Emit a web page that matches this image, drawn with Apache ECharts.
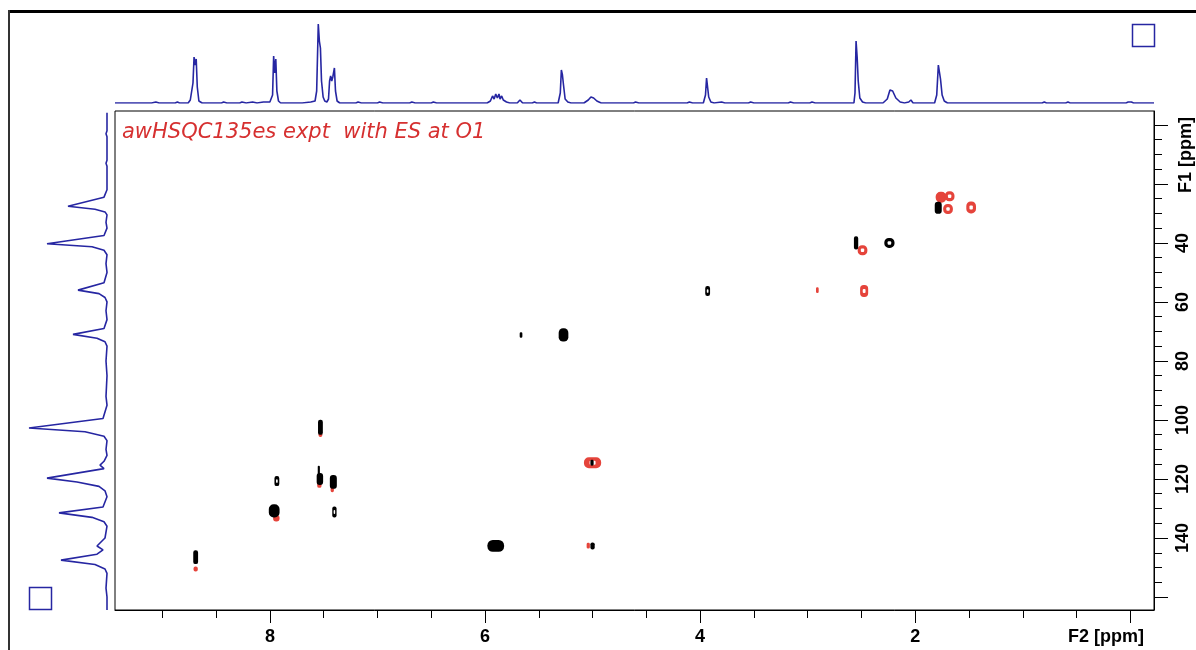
<!DOCTYPE html>
<html><head><meta charset="utf-8">
<script src="https://cdn.jsdelivr.net/npm/echarts@6/dist/echarts.min.js"></script>
<style>html,body{margin:0;padding:0;background:#fff}#c{width:1196px;height:650px}</style>
</head><body><div id="c"></div><script>
// ---- Axis ranges & ticks (ppm) ----
const F2_MIN = -0.22, F2_MAX = 9.44;
const F1_MIN = -4.7, F1_MAX = 164.4;
const f2MajorTicks = [0, 2, 4, 6, 8];
const f2MinorTicks = [0.5, 1, 1.5, 2.5, 3, 3.5, 4.5, 5, 5.5, 6.5, 7, 7.5, 8.5, 9];
const f2Labels = [2, 4, 6, 8];
const f1MajorTicks = [0, 20, 40, 60, 80, 100, 120, 140, 160];
const f1MinorTicks = [5, 10, 15, 25, 30, 35, 45, 50, 55, 65, 70, 75, 85, 90, 95, 105, 110, 115, 125, 130, 135, 145, 150, 155];
const f1Labels = [40, 60, 80, 100, 120, 140];

// ---- 2D cross peaks: [F2 ppm, F1 ppm, F2 extent ppm, F1 extent ppm] ----
const positivePeaks = [
  [1.786, 28.1, 0.065, 4.1],
  [2.55, 40.0, 0.04, 4.5],
  [2.24, 40.0, 0.095, 3.4],
  [3.93, 56.3, 0.045, 3.4],
  [5.665, 71.2, 0.025, 1.8],
  [5.27, 71.2, 0.09, 4.5],
  [5.005, 114.5, 0.03, 2.0],
  [7.53, 102.5, 0.045, 5.1],
  [7.535, 120.0, 0.06, 4.0],
  [7.545, 117.0, 0.02, 3.0],
  [7.41, 121.0, 0.065, 4.7],
  [7.935, 120.7, 0.045, 3.4],
  [7.96, 130.8, 0.10, 4.5],
  [7.40, 131.2, 0.04, 3.7],
  [5.90, 142.7, 0.155, 4.0],
  [8.69, 146.5, 0.045, 4.7],
  [5.00, 142.7, 0.04, 2.4]
];
const negativePeaks = [
  [1.76, 24.5, 0.10, 3.7],
  [1.68, 24.2, 0.09, 3.4],
  [1.695, 28.5, 0.09, 3.4],
  [1.48, 28.0, 0.09, 4.0],
  [2.49, 42.5, 0.09, 3.4],
  [2.91, 56.0, 0.025, 2.0],
  [2.475, 56.3, 0.075, 4.0],
  [5.00, 114.5, 0.16, 3.7],
  [7.53, 105.0, 0.035, 1.5],
  [7.54, 122.0, 0.04, 2.0],
  [7.42, 123.5, 0.03, 2.0],
  [7.94, 133.3, 0.06, 2.2],
  [8.69, 150.5, 0.04, 1.7],
  [5.04, 142.6, 0.03, 2.0]
];

// ---- 1D projections ----
// F2 (top) projection: [ppm, intensity]
const f2Projection = [
  [9.44,0],[9.10,0],[9.06,1],[9.03,0],[8.88,0],[8.86,1],[8.84,0],
  [8.76,0],[8.74,3],[8.715,20],[8.705,46],[8.695,38],[8.685,44],[8.675,16],[8.66,2],[8.63,0],
  [8.45,0],[8.43,1],[8.40,0],[8.28,0],[8.26,1],[8.22,0],[8.16,1],[8.12,0],[8.06,1],
  [8.00,1],[7.975,8],[7.965,47],[7.955,30],[7.945,44],[7.935,12],[7.92,2],[7.90,0],
  [7.70,0],[7.62,1],[7.58,2],[7.565,12],[7.55,79],[7.54,62],[7.53,55],[7.52,22],[7.505,6],[7.49,2],[7.47,1],
  [7.455,4],[7.445,22],[7.435,27],[7.425,22],[7.415,26],[7.40,35],[7.39,12],[7.375,2],[7.35,0],
  [7.20,0],[7.18,1],[7.15,0],[7.00,0],[6.98,1],[6.95,0],[6.70,0],[6.68,1],[6.65,0],[6.50,0],[6.48,1],[6.45,0],
  [5.98,0],[5.95,2],[5.93,7],[5.915,4],[5.90,9],[5.885,5],[5.87,9],[5.86,4],[5.845,7],[5.83,3],[5.80,1],[5.77,0],
  [5.70,0],[5.675,3],[5.65,0],[5.56,0],[5.54,1],[5.52,0],
  [5.32,0],[5.30,10],[5.29,33],[5.28,28],[5.27,18],[5.255,4],[5.23,1],[5.20,0],
  [5.08,0],[5.04,3],[5.015,6],[4.99,5],[4.96,2],[4.92,0],
  [4.62,0],[4.60,1],[4.57,0],[4.12,0],[4.10,1],[4.07,0],
  [3.97,0],[3.95,8],[3.94,25],[3.93,23],[3.92,6],[3.90,1],[3.87,0],
  [3.80,1],[3.77,0],[3.55,0],[3.53,1],[3.50,0],[3.18,0],[3.16,1],[3.13,0],[2.98,0],[2.96,1],[2.93,0],
  [2.57,0],[2.56,10],[2.55,62],[2.54,46],[2.53,22],[2.515,5],[2.49,1],[2.46,0],
  [2.30,0],[2.26,4],[2.235,13],[2.21,12],[2.18,5],[2.14,1],[2.10,0],[2.06,1],[2.04,3],[2.02,0],
  [1.82,0],[1.80,8],[1.785,38],[1.775,31],[1.765,24],[1.75,8],[1.73,2],[1.70,0],
  [1.10,0],[0.82,0],[0.80,1],[0.78,0],[0.60,0],[0.58,1],[0.56,0],[0.04,0],[0.02,1],[-0.01,1],[-0.03,0],[-0.22,0]
];
// F1 (left) projection: [intensity, ppm]
const f1Projection = [
  [0,-4.1],[0,2],[1,3],[0,4],[0,12],[1,13],[0,14],[0,22],[3,24.5],[39,27.6],[12,28.6],[2,29.5],[0,30.5],[1,33],[0,35],
  [3,37.5],[60,40.3],[15,41.3],[3,42.5],[0,44],[1,47],[0,50],[3,53.5],[29,56],[8,57.2],[2,58.5],[0,60],[1,63],[0,66],
  [3,69],[34,71],[10,72.3],[2,73.5],[0,75],[1,80],[0,85],[1,92],[0,95],
  [4,99.5],[78,102.7],[22,104],[3,105.5],[0,107],[1,110],[0,112],[3,114],[7,115.3],[3,116.5],[60,119.7],[30,121],[8,122.5],[2,124],[0,126],
  [4,129.5],[48,131.5],[15,133],[3,134.5],[0,136],[2,140],[10,142.7],[4,144],[10,145.5],[46,147.5],[12,149],[2,150.5],[0,152],[1,157],[0,160],[0,164.4]
];

// ---- rendering ----
const BLUE = '#2626a2', RED = '#e5443b', TEXT_RED = '#d63030';
const blackRings = [2, 3, 11, 13];
const redRings = [1, 2, 3, 4, 6, 7];

function peakRenderer(color, rings) {
  return function (params, api) {
    const c = api.coord([api.value(0), api.value(1)]);
    const s = api.size([api.value(2), api.value(3)]);
    const w = Math.max(Math.abs(s[0]), 2), h = Math.max(Math.abs(s[1]), 2);
    const children = [{
      type: 'rect',
      shape: { x: c[0] - w / 2, y: c[1] - h / 2, width: w, height: h, r: Math.min(w, h) * 0.45 },
      style: { fill: color }
    }];
    if (rings.indexOf(params.dataIndex) >= 0) {
      const iw = Math.max(w * 0.35, 1.5), ih = Math.max(h * 0.35, 1.5);
      children.push({
        type: 'rect',
        shape: { x: c[0] - iw / 2, y: c[1] - ih / 2, width: iw, height: ih, r: 1 },
        style: { fill: '#fff' }
      });
    }
    return { type: 'group', children: children };
  };
}

const chart = echarts.init(document.getElementById('c'), null, { renderer: 'canvas' });
const labelFont = { fontFamily: 'Liberation Sans', fontWeight: 'bold', fontSize: 18, color: '#000' };

chart.setOption({
  animation: false,
  backgroundColor: '#fff',
  grid: [
    { left: 115, right: 42, top: 111, bottom: 40, show: true, borderColor: '#000', borderWidth: 1, backgroundColor: 'transparent' },
    { left: 115, right: 42, top: 18, height: 85 },
    { left: 12, width: 95, top: 111, bottom: 40 }
  ],
  xAxis: [
    { gridIndex: 0, type: 'value', position: 'bottom', min: F2_MIN, max: F2_MAX, inverse: true,
      axisLine: { show: true, onZero: false, lineStyle: { color: '#000', width: 1 } },
      axisTick: { show: true, length: 13, customValues: f2MajorTicks, lineStyle: { color: '#000' } },
      axisLabel: Object.assign({ customValues: f2Labels, margin: 18 }, labelFont),
      splitLine: { show: false } },
    { gridIndex: 1, type: 'value', min: F2_MIN, max: F2_MAX, inverse: true, show: false },
    { gridIndex: 2, type: 'value', min: 0, max: 95, inverse: true, show: false },
    { gridIndex: 0, type: 'value', position: 'bottom', offset: 0, min: F2_MIN, max: F2_MAX, inverse: true,
      axisLine: { show: false, onZero: false },
      axisTick: { show: true, length: 8, customValues: f2MinorTicks, lineStyle: { color: '#000' } },
      axisLabel: { show: false }, splitLine: { show: false } }
  ],
  yAxis: [
    { gridIndex: 0, type: 'value', position: 'right', min: F1_MIN, max: F1_MAX, inverse: true,
      axisLine: { show: true, onZero: false, lineStyle: { color: '#000', width: 1 } },
      axisTick: { show: true, length: 14, customValues: f1MajorTicks, lineStyle: { color: '#000' } },
      axisLabel: Object.assign({ customValues: f1Labels, margin: 20, rotate: 90 }, labelFont),
      splitLine: { show: false } },
    { gridIndex: 1, type: 'value', min: 0, max: 85, show: false },
    { gridIndex: 2, type: 'value', min: F1_MIN, max: F1_MAX, inverse: true, show: false },
    { gridIndex: 0, type: 'value', position: 'right', offset: 0, min: F1_MIN, max: F1_MAX, inverse: true,
      axisLine: { show: false, onZero: false },
      axisTick: { show: true, length: 8, customValues: f1MinorTicks, lineStyle: { color: '#000' } },
      axisLabel: { show: false }, splitLine: { show: false } }
  ],
  series: [
    { type: 'custom', name: 'negative', xAxisIndex: 0, yAxisIndex: 0, clip: true,
      renderItem: peakRenderer(RED, redRings), data: negativePeaks },
    { type: 'custom', name: 'positive', xAxisIndex: 0, yAxisIndex: 0, clip: true,
      renderItem: peakRenderer('#000', blackRings), data: positivePeaks },
    { type: 'line', name: 'F2 projection', xAxisIndex: 1, yAxisIndex: 1, data: f2Projection,
      symbol: 'none', lineStyle: { color: BLUE, width: 1.6 }, silent: true },
    { type: 'line', name: 'F1 projection', xAxisIndex: 2, yAxisIndex: 2, data: f1Projection,
      symbol: 'none', lineStyle: { color: BLUE, width: 1.6 }, silent: true }
  ],
  graphic: [
    { type: 'rect', shape: { x: 9, y: 10, width: 1187, height: 3 }, style: { fill: '#000' } },
    { type: 'rect', shape: { x: 8, y: 10, width: 2, height: 640 }, style: { fill: '#333' } },
    { type: 'rect', shape: { x: 1132.5, y: 24.5, width: 22, height: 22 }, style: { fill: 'none', stroke: BLUE, lineWidth: 1.5 } },
    { type: 'rect', shape: { x: 29.5, y: 587.5, width: 22, height: 22 }, style: { fill: 'none', stroke: BLUE, lineWidth: 1.5 } },
    { type: 'text', x: 122, y: 133, style: { text: 'awHSQC135es expt  with ES at O1', font: 'italic 21px "DejaVu Sans"', fill: TEXT_RED, verticalAlign: 'middle' } },
    { type: 'text', x: 1106, y: 637, style: { text: 'F2 [ppm]', font: 'bold 18px "Liberation Sans"', fill: '#000', align: 'center', verticalAlign: 'middle' } },
    { type: 'text', x: 1186, y: 155, rotation: Math.PI / 2, style: { text: 'F1 [ppm]', font: 'bold 18px "Liberation Sans"', fill: '#000', align: 'center', verticalAlign: 'middle' } }
  ]
});
</script></body></html>
